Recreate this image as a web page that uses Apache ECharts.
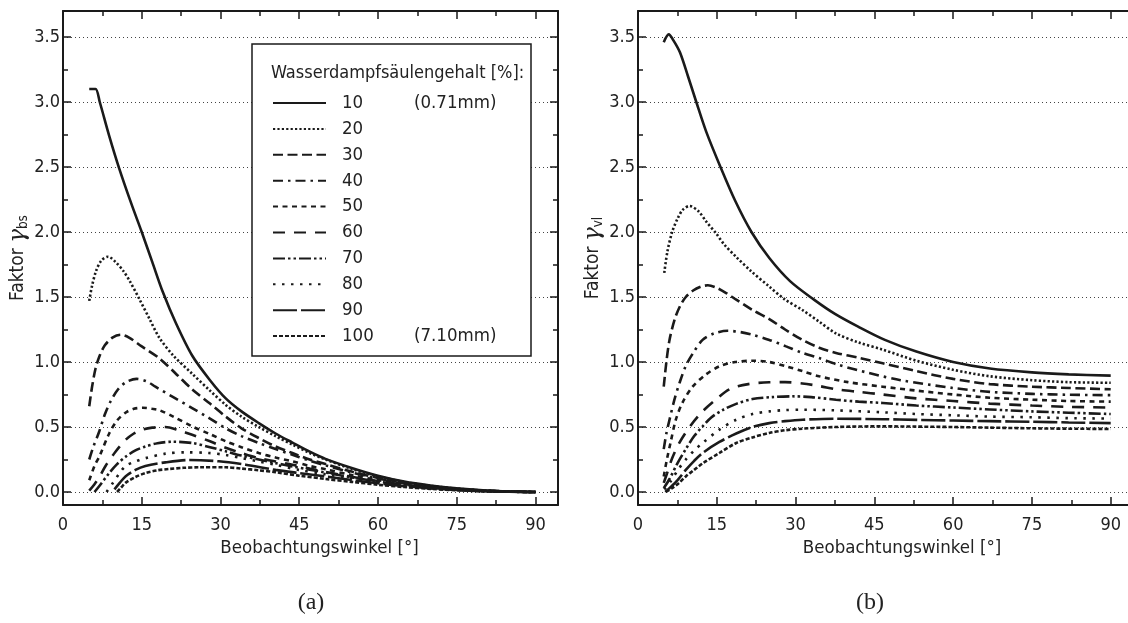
<!DOCTYPE html>
<html>
<head>
<meta charset="UTF-8">
<title>Faktor gamma</title>
<script src="https://cdn.jsdelivr.net/npm/echarts@6/dist/echarts.min.js"></script>
<style>
  html, body { margin: 0; padding: 0; background: #fff; overflow: hidden; }
  #main { width: 1128px; height: 623px; }
</style>
</head>
<body>
<div id="main"></div>
<script>
// Wasserdampfsäulengehalt-Stufen (Legende)
var levels = ['10', '20', '30', '40', '50', '60', '70', '80', '90', '100'];
var levelNotes = { '10': '(0.71mm)', '100': '(7.10mm)' };

// (a) Faktor gamma_bs, [Winkel, Wert]
var bs10 = [[5,3.1],[6.2,3.1],[7,3.0],[8.8,2.74],[10.7,2.49],[13,2.22],[15,2.0],[17,1.77],[19,1.54],[21.5,1.3],[24.6,1.05],[28,0.86],[31,0.72],[34,0.62],[37.3,0.53],[40.5,0.45],[43.7,0.38],[47,0.31],[50,0.255],[55,0.185],[60,0.125],[65,0.08],[70,0.05],[75,0.028],[80,0.013],[85,0.004],[90,0]];
var bs20 = [[5,1.47],[5.5,1.58],[6.3,1.7],[7.3,1.78],[8.6,1.81],[10,1.77],[11.5,1.7],[12.75,1.62],[14.6,1.48],[16.5,1.33],[18.3,1.19],[21,1.05],[24.6,0.91],[28,0.78],[31,0.67],[34,0.58],[37.3,0.5],[40.5,0.43],[43.7,0.365],[47,0.3],[50,0.25],[55,0.178],[60,0.12],[65,0.077],[70,0.047],[75,0.026],[80,0.012],[85,0.004],[90,0]];
var bs30 = [[5,0.66],[5.5,0.8],[6.2,0.95],[7,1.05],[8,1.13],[9.5,1.19],[11,1.21],[12.5,1.19],[15,1.12],[18.3,1.03],[21.5,0.91],[24.6,0.79],[28,0.68],[31,0.58],[34,0.49],[37.3,0.415],[40.5,0.35],[43.7,0.3],[47,0.25],[50,0.215],[55,0.157],[60,0.108],[65,0.071],[70,0.043],[75,0.024],[80,0.011],[85,0.004],[90,0]];
var bs40 = [[5,0.25],[5.8,0.35],[6.85,0.46],[8,0.6],[9.1,0.7],[10.5,0.79],[12,0.845],[14,0.87],[16,0.85],[17.6,0.81],[21,0.73],[24.6,0.646],[28,0.565],[31,0.49],[34,0.43],[37.3,0.377],[40.5,0.33],[43.7,0.287],[47,0.24],[50,0.205],[55,0.15],[60,0.104],[65,0.068],[70,0.041],[75,0.023],[80,0.011],[85,0.004],[90,0]];
var bs50 = [[5,0.09],[6,0.2],[7,0.28],[8.8,0.45],[10.3,0.55],[11.9,0.61],[13.5,0.64],[15.2,0.648],[17,0.64],[18.3,0.63],[21,0.58],[24.6,0.505],[28,0.445],[31,0.39],[34,0.345],[37.3,0.3],[40.5,0.265],[43.7,0.236],[47,0.2],[50,0.175],[55,0.13],[60,0.092],[65,0.061],[70,0.037],[75,0.021],[80,0.01],[85,0.003],[90,0]];
var bs60 = [[5,0.01],[6,0.06],[7,0.12],[8.1,0.2],[10,0.31],[11.9,0.4],[13.5,0.45],[15.1,0.48],[17,0.495],[19.5,0.5],[22,0.475],[24.6,0.44],[28,0.39],[31,0.34],[34,0.3],[37.3,0.26],[40.5,0.235],[43.7,0.21],[47,0.18],[50,0.155],[55,0.117],[60,0.084],[65,0.056],[70,0.034],[75,0.019],[80,0.009],[85,0.003],[90,0]];
var bs70 = [[6,0],[7,0.05],[8.8,0.146],[10.3,0.215],[11.9,0.27],[13.8,0.32],[15.7,0.35],[18,0.375],[20.8,0.387],[24.6,0.377],[28,0.345],[31,0.313],[34,0.28],[37.3,0.25],[40.5,0.222],[43.7,0.197],[47,0.172],[50,0.15],[55,0.113],[60,0.081],[65,0.054],[70,0.033],[75,0.018],[80,0.008],[85,0.003],[90,0]];
var bs80 = [[8.3,0],[9.5,0.07],[10.7,0.14],[11.9,0.2],[13.8,0.235],[15.7,0.26],[19.5,0.295],[23.4,0.305],[27.8,0.3],[31,0.285],[34.1,0.26],[37.3,0.235],[40.5,0.21],[44.9,0.17],[50,0.137],[55,0.104],[60,0.075],[65,0.05],[70,0.031],[75,0.017],[80,0.008],[85,0.003],[90,0]];
var bs90 = [[9.8,0.02],[10.8,0.07],[11.9,0.12],[13.8,0.17],[15.7,0.2],[19.5,0.228],[24,0.246],[29.7,0.236],[34.8,0.21],[40.5,0.17],[44.9,0.146],[50,0.12],[55,0.092],[60,0.067],[65,0.045],[70,0.028],[75,0.015],[80,0.007],[85,0.002],[90,0]];
var bs100 = [[10.3,0],[11.1,0.035],[11.9,0.07],[13.8,0.115],[15.7,0.146],[18,0.167],[20.2,0.177],[23,0.186],[25.9,0.19],[31,0.19],[34,0.18],[37.3,0.167],[40.5,0.152],[44.9,0.126],[50,0.1],[55,0.078],[60,0.056],[65,0.038],[70,0.024],[75,0.013],[80,0.006],[85,0.002],[90,0]];

// (b) Faktor gamma_vl
var vl10 = [[4.9,3.46],[5.85,3.52],[6.8,3.47],[8,3.38],[9.5,3.2],[11.1,3.0],[13,2.77],[15.7,2.5],[18.5,2.24],[21.6,2.0],[25,1.8],[29,1.62],[33.5,1.48],[37.5,1.37],[42,1.27],[47,1.17],[53,1.08],[60,1.0],[67,0.95],[75,0.92],[82,0.905],[90,0.895]];
var vl20 = [[5,1.685],[5.6,1.85],[6.5,2.0],[7.5,2.1],[8.5,2.17],[9.8,2.2],[11.5,2.16],[13,2.08],[14.85,1.99],[16.5,1.9],[18.65,1.81],[21.5,1.7],[25,1.58],[28,1.48],[31.3,1.4],[34.5,1.31],[37.7,1.22],[42,1.15],[46.6,1.095],[53,1.01],[60,0.94],[67,0.89],[75,0.86],[82,0.845],[90,0.84]];
var vl30 = [[4.9,0.81],[5.4,1.0],[6,1.17],[7,1.33],[8,1.43],[9.1,1.5],[10.5,1.55],[12,1.58],[13.3,1.59],[15,1.57],[16.8,1.53],[18.7,1.48],[21.8,1.4],[25,1.33],[28,1.25],[31.3,1.17],[34.5,1.11],[37.7,1.07],[42.3,1.03],[46.6,0.99],[53,0.93],[60,0.87],[67,0.83],[75,0.81],[82,0.8],[90,0.79]];
var vl40 = [[4.9,0.33],[5.4,0.45],[6,0.556],[7,0.72],[8,0.85],[9.1,0.97],[10.5,1.07],[12.3,1.17],[14.5,1.22],[17.1,1.24],[19.5,1.23],[21.8,1.21],[25,1.17],[28.2,1.12],[31.3,1.07],[34.5,1.03],[38,0.98],[44,0.915],[50,0.86],[60,0.8],[67,0.77],[75,0.755],[82,0.748],[90,0.745]];
var vl50 = [[4.9,0.12],[5.5,0.25],[6.2,0.38],[7.2,0.556],[8.5,0.69],[10.4,0.81],[12.8,0.9],[15.5,0.967],[18.5,1.0],[21.8,1.01],[25,1.0],[28.2,0.967],[31.3,0.93],[34.5,0.89],[40,0.845],[46.6,0.81],[53,0.78],[60,0.75],[67,0.725],[75,0.71],[82,0.7],[90,0.695]];
var vl60 = [[4.9,0.07],[5.5,0.14],[6.5,0.26],[7.9,0.38],[10,0.51],[12.3,0.62],[14.8,0.71],[17.4,0.79],[21,0.83],[25,0.844],[28,0.845],[31.3,0.835],[34.5,0.815],[37.7,0.79],[42,0.77],[46.6,0.75],[53,0.72],[60,0.7],[67,0.68],[75,0.665],[82,0.655],[90,0.65]];
var vl70 = [[4.9,0.03],[6,0.1],[7.5,0.22],[9.1,0.33],[10.7,0.43],[12.3,0.505],[14,0.575],[16.1,0.63],[18.8,0.68],[21.8,0.715],[25.5,0.73],[29.4,0.736],[33,0.73],[37.7,0.71],[42,0.695],[46.6,0.685],[53,0.665],[60,0.65],[67,0.635],[75,0.62],[82,0.61],[90,0.6]];
var vl80 = [[5,0.02],[6.2,0.08],[7.6,0.17],[9.1,0.25],[10.7,0.32],[12.3,0.377],[15.5,0.48],[18.7,0.556],[21.8,0.6],[25,0.62],[28,0.63],[31.3,0.633],[37.7,0.628],[46.6,0.613],[53,0.6],[60,0.59],[67,0.58],[75,0.575],[82,0.568],[90,0.565]];
var vl90 = [[5.2,0],[6,0.03],[7.5,0.09],[9.1,0.17],[10.7,0.24],[12.3,0.3],[15.5,0.385],[18.7,0.45],[21.8,0.5],[25,0.53],[28,0.545],[31.3,0.556],[37.7,0.564],[46.6,0.56],[53,0.555],[60,0.55],[67,0.545],[75,0.54],[82,0.535],[90,0.53]];
var vl100 = [[5.3,0],[6.5,0.03],[7.8,0.07],[9.1,0.12],[10.7,0.17],[12.3,0.22],[15.5,0.3],[18.7,0.377],[21.8,0.42],[25,0.454],[28,0.475],[31.3,0.487],[37.7,0.5],[46.6,0.505],[53,0.503],[60,0.5],[67,0.495],[75,0.49],[82,0.487],[90,0.485]];

var bsSeries = [bs10, bs20, bs30, bs40, bs50, bs60, bs70, bs80, bs90, bs100];
var vlSeries = [vl10, vl20, vl30, vl40, vl50, vl60, vl70, vl80, vl90, vl100];

// Strichmuster je Stufe
var dashes = {
  '10': 'solid',
  '20': [2.2, 2.2],
  '30': [10, 4.5],
  '40': [10, 5, 2.5, 5],
  '50': [5, 4.5],
  '60': [12, 9],
  '70': [12, 3, 2.5, 3, 2.5, 3],
  '80': [2.5, 6.5],
  '90': [24, 4],
  '100': [4, 2]
};

var cond = "'DejaVu Sans Condensed', 'Liberation Sans', sans-serif";
var ink = '#1a1a1a';

var myChart = echarts.init(document.getElementById('main'));

// x-Achse; Panel (b) reicht rechts über den Bildrand hinaus
function xAx(gi, top, xmax) {
  var ax = {
    type: 'value', gridIndex: gi, position: top ? 'top' : 'bottom',
    min: 0, max: xmax, minInterval: 15, maxInterval: 15,
    axisLine: { show: true, onZero: false, lineStyle: { color: ink, width: 2 } },
    axisTick: { show: true, inside: true, length: 8, lineStyle: { color: ink, width: 1.5 } },
    minorTick: { show: true, splitNumber: 2, length: 5, lineStyle: { color: ink, width: 1.5 } },
    axisLabel: { show: !top, showMaxLabel: false, margin: 11, color: '#222', fontSize: 18, fontFamily: cond },
    splitLine: { show: false }
  };
  if (!top) {
    ax.name = 'Beobachtungswinkel [°]';
    ax.nameLocation = 'middle';
    ax.nameGap = 30;
    ax.nameTextStyle = { fontSize: 18.5, fontFamily: cond, color: '#222', padding: [0, 0, 0, 18] };
  }
  return ax;
}

function yAx(gi, right, sub) {
  var ax = {
    type: 'value', gridIndex: gi, position: right ? 'right' : 'left',
    min: -0.1, max: 3.7, minInterval: 0.5, maxInterval: 0.5,
    axisLine: { show: true, onZero: false, lineStyle: { color: ink, width: 2 } },
    axisTick: { show: true, inside: true, length: 8, lineStyle: { color: ink, width: 1.5 } },
    minorTick: { show: true, splitNumber: 2, length: 5, lineStyle: { color: ink, width: 1.5 } },
    axisLabel: { show: !right, showMinLabel: false, showMaxLabel: false, margin: 3, color: '#222', fontSize: 18, fontFamily: cond,
      formatter: function (v) { return v.toFixed(1); } },
    splitLine: { show: !right, showMinLine: false, showMaxLine: false, lineStyle: { color: '#444', width: 1, type: [1, 3] } }
  };
  if (!right) {
    ax.name = 'Faktor {g|γ}{s|' + sub + '}';
    ax.nameLocation = 'middle';
    ax.nameGap = 24;
    ax.nameTextStyle = {
      fontSize: 19, fontFamily: cond, color: '#222',
      rich: {
        g: { fontSize: 23, fontFamily: "'DejaVu Serif', serif", fontStyle: 'italic', color: '#222' },
        s: { fontSize: 13.5, fontFamily: cond, color: '#222', padding: [10, 0, 0, 0] }
      }
    };
  }
  return ax;
}

var series = [];
levels.forEach(function (lv, i) {
  [bsSeries[i], vlSeries[i]].forEach(function (d, gi) {
    series.push({
      name: lv, type: 'line', xAxisIndex: gi * 2, yAxisIndex: gi * 2,
      data: d, symbol: 'none', showSymbol: false, smooth: 0.3, silent: true,
      itemStyle: { color: ink },
      lineStyle: { color: ink, width: 2.6, type: dashes[lv], cap: 'butt' }
    });
  });
});

var option = {
  animation: false,
  backgroundColor: '#fff',
  grid: [
    { left: 63, top: 11, width: 495, height: 494, outerBoundsMode: 'none' },
    { left: 638, top: 11, width: 510, height: 494, outerBoundsMode: 'none' }
  ],
  xAxis: [xAx(0, false, 94.3), xAx(0, true, 94.3), xAx(1, false, 97.1), xAx(1, true, 97.1)],
  // Panel (b) hat keine sichtbare rechte Achse
  yAxis: [yAx(0, false, 'bs'), yAx(0, true), yAx(1, false, 'vl')],
  legend: {
    data: levels, orient: 'vertical', left: 272, top: 93, padding: 0,
    itemWidth: 53, itemHeight: 20, itemGap: 5.9, selectedMode: false, z: 6,
    itemStyle: { opacity: 0 },
    lineStyle: { opacity: 1 },
    textStyle: {
      fontSize: 18.5, lineHeight: 20, fontFamily: cond, color: '#222', padding: [0, 0, 0, 11],
      rich: { a: { width: 72, fontSize: 18.5, lineHeight: 20, fontFamily: cond, color: '#222' },
              b: { fontSize: 18.5, lineHeight: 20, fontFamily: cond, color: '#222' } }
    },
    formatter: function (name) {
      return '{a|' + name + '}' + (levelNotes[name] ? '{b|' + levelNotes[name] + '}' : '');
    }
  },
  graphic: [
    { type: 'rect', z: 3, shape: { x: 252, y: 44, width: 279, height: 312 },
      style: { fill: '#fff', stroke: ink, lineWidth: 1.5 } },
    { type: 'text', z: 6, x: 271, y: 73,
      style: { text: 'Wasserdampfsäulengehalt [%]:', font: "18px 'DejaVu Sans Condensed', sans-serif",
        fill: '#222', verticalAlign: 'middle' } },
    { type: 'text', x: 311, y: 603,
      style: { text: '(a)', font: "24px 'Liberation Serif', 'DejaVu Serif', serif", fill: '#222', align: 'center', verticalAlign: 'middle' } },
    { type: 'text', x: 870, y: 603,
      style: { text: '(b)', font: "24px 'Liberation Serif', 'DejaVu Serif', serif", fill: '#222', align: 'center', verticalAlign: 'middle' } }
  ],
  series: series
};

myChart.setOption(option);
</script>
</body>
</html>
